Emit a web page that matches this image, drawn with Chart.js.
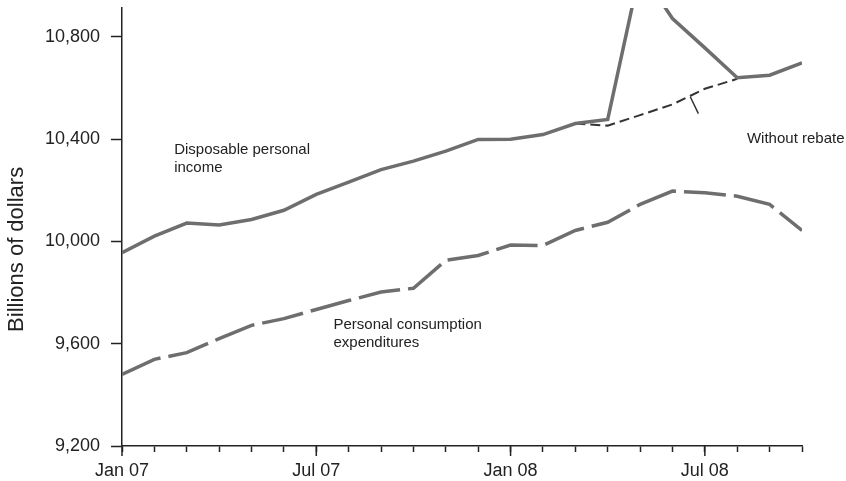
<!DOCTYPE html>
<html>
<head>
<meta charset="utf-8">
<script src="https://cdn.jsdelivr.net/npm/chart.js@4/dist/chart.umd.min.js"></script>
<style>
  html, body { margin: 0; padding: 0; background: #fff; }
  #wrap { width: 846px; height: 481px; position: relative; }
</style>
</head>
<body>
<div id="wrap"><canvas id="chart"></canvas></div>
<script>
// 월별 데이터 (Jan 07 ~ Oct 08), 단위: billions of dollars
const months = ['Jan 07', '', '', '', '', '', 'Jul 07', '', '', '', '', '',
                'Jan 08', '', '', '', '', '', 'Jul 08', '', '', ''];
const income = [9956, 10021, 10072, 10064, 10086, 10122, 10184, 10232, 10281, 10314, 10353, 10399,
                10400, 10418, 10461, 10477, 11060, 10872, 10757, 10640, 10650, 10698];
const noRebate = [null, null, null, null, null, null, null, null, null, null, null, null,
                  null, null, 10461, 10453, 10494, 10536, 10597, 10636, null, null];
const consumption = [9480, 9539, 9565, 9620, 9672, 9698, 9734, 9769, 9802, 9817, 9926, 9945,
                     9986, 9984, 10043, 10075, 10145, 10197, 10190, 10177, 10145, 10043];
const yTicks = [9200, 9600, 10000, 10400, 10800];
const majorMonths = [0, 6, 12, 18];
const yTitle = 'Billions of dollars';

// 주석 텍스트 (x = 월 인덱스, y = 값)
const notes = [
  { lines: ['Disposable personal', 'income'], x: 1.61, y: 10360 },
  { lines: ['Personal consumption', 'expenditures'], x: 6.53, y: 9672 },
  { lines: ['Without rebate'], x: 19.3, y: 10403 }
];
const leader = [{ x: 17.55, y: 10566 }, { x: 17.8, y: 10500 }];

const GRAY = '#6e6e6e';
const FONT = 'Liberation Sans, Arial, sans-serif';

function toXY(arr) {
  return arr.map((v, i) => ({ x: i, y: v }));
}

const extrasPlugin = {
  id: 'extras',
  afterDraw(chart) {
    const ctx = chart.ctx;
    const xs = chart.scales.x, ys = chart.scales.y;
    ctx.save();
    // 주요 눈금 (Jan, Jul) 길게
    ctx.strokeStyle = '#222';
    ctx.lineWidth = 1.5;
    const base = ys.bottom;
    majorMonths.forEach(m => {
      const px = xs.getPixelForValue(m);
      ctx.beginPath();
      ctx.moveTo(px, base);
      ctx.lineTo(px, base + 10);
      ctx.stroke();
    });
    // 텍스트 주석
    ctx.fillStyle = '#222';
    ctx.font = '15px ' + FONT;
    ctx.textBaseline = 'middle';
    ctx.textAlign = 'left';
    notes.forEach(n => {
      const px = xs.getPixelForValue(n.x);
      const py = ys.getPixelForValue(n.y);
      n.lines.forEach((t, k) => ctx.fillText(t, px, py + k * 18));
    });
    // y축 제목 (원본처럼 약간 아래쪽)
    ctx.font = '22px ' + FONT;
    ctx.textAlign = 'center';
    ctx.translate(ys.left + 17, ys.getPixelForValue(9969));
    ctx.rotate(-Math.PI / 2);
    ctx.fillText(yTitle, 0, 0);
    ctx.restore();
  }
};

new Chart(document.getElementById('chart'), {
  type: 'line',
  data: {
    datasets: [
      {
        label: 'Disposable personal income',
        data: toXY(income),
        borderColor: GRAY,
        borderWidth: 3.5,
        pointRadius: 0,
        tension: 0
      },
      {
        label: 'Without rebate',
        data: toXY(noRebate),
        borderColor: '#333',
        borderWidth: 2,
        borderDash: [10, 5],
        pointRadius: 0,
        spanGaps: false,
        tension: 0
      },
      {
        label: 'Personal consumption expenditures',
        data: toXY(consumption),
        borderColor: GRAY,
        borderWidth: 3.5,
        borderDash: [42, 8],
        pointRadius: 0,
        tension: 0
      },
      {
        label: 'leader',
        data: leader,
        borderColor: '#333',
        borderWidth: 1.5,
        pointRadius: 0
      }
    ]
  },
  options: {
    responsive: true,
    maintainAspectRatio: false,
    animation: false,
    layout: { padding: { top: 8, right: 44, left: 0, bottom: 0 } },
    plugins: {
      legend: { display: false },
      tooltip: { enabled: false }
    },
    scales: {
      x: {
        type: 'linear',
        min: 0,
        max: 21,
        afterBuildTicks: s => { s.ticks = months.map((_, i) => ({ value: i })); },
        afterFit: s => { s.height = 35; },
        grid: {
          drawOnChartArea: false,
          tickLength: 6,
          tickColor: '#222',
          tickWidth: 1.5
        },
        border: { color: '#222', width: 1.5 },
        ticks: {
          autoSkip: false,
          maxRotation: 0,
          padding: 8,
          color: '#222',
          font: { family: FONT, size: 18 },
          callback: v => months[v]
        }
      },
      y: {
        min: 9200,
        max: 10913,
        afterBuildTicks: s => { s.ticks = yTicks.map(v => ({ value: v })); },
        afterFit: s => { s.width = 122; s.paddingTop = 0; s.paddingBottom = 0; },
        grid: {
          drawOnChartArea: false,
          tickLength: 11,
          tickColor: '#222',
          tickWidth: 1.5
        },
        border: { color: '#222', width: 1.5 },
        ticks: {
          padding: 11,
          color: '#222',
          font: { family: FONT, size: 18 },
          callback: v => v.toLocaleString('en-US')
        }
      }
    }
  },
  plugins: [extrasPlugin]
});
</script>
</body>
</html>
